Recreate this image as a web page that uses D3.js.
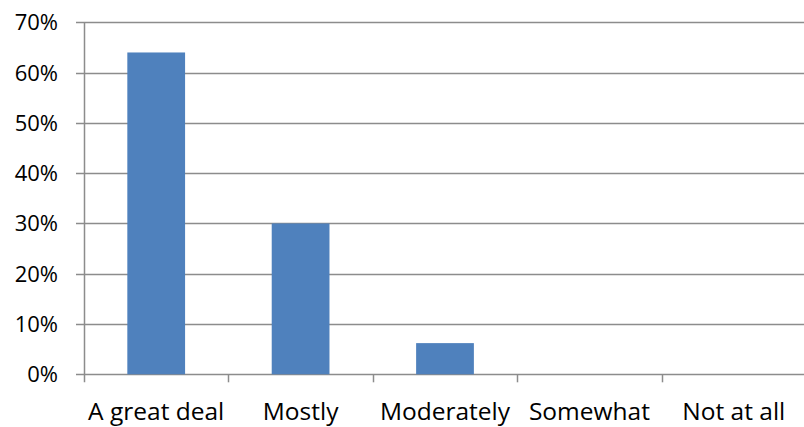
<!DOCTYPE html>
<html>
<head>
<meta charset="utf-8">
<script src="https://cdn.jsdelivr.net/npm/d3@7"></script>
<style>
  html, body { margin: 0; padding: 0; background: #fff; }
  svg { display: block; }
  text { font-family: "Open Sans", "Noto Sans", sans-serif; fill: #000; }
</style>
</head>
<body>
<svg id="chart" width="804" height="427"></svg>
<script>
// Share of responses per answer category
const categories = ["A great deal", "Mostly", "Moderately", "Somewhat", "Not at all"];
const shares = [0.64, 0.30, 0.062, 0, 0];
const yTicks = [0, 0.1, 0.2, 0.3, 0.4, 0.5, 0.6, 0.7];

const svg = d3.select("#chart");
const plotLeft = 84, plotRight = 806, plotTop = 22.3, plotBottom = 374.3;

const x = d3.scaleBand()
  .domain(categories)
  .range([plotLeft, plotRight])
  .paddingInner(0.6)
  .paddingOuter(0.3);

const y = d3.scaleLinear().domain([0, 0.7]).range([plotBottom, plotTop]);

// Horizontal gridlines with their outer ticks
svg.append("g")
  .selectAll("line")
  .data(yTicks)
  .join("line")
  .attr("x1", plotLeft - 8)
  .attr("x2", plotRight)
  .attr("y1", d => Math.round(y(d)) + 0.5)
  .attr("y2", d => Math.round(y(d)) + 0.5)
  .attr("stroke", "#8c8c8c")
  .attr("stroke-width", 1.5);

// Y tick labels
svg.append("g")
  .selectAll("text")
  .data(yTicks)
  .join("text")
  .attr("x", 58)
  .attr("y", d => y(d) + 8)
  .attr("text-anchor", "end")
  .style("font-size", "22px")
  .text(d3.format(".0%"));

// Bars
svg.append("g")
  .selectAll("rect")
  .data(categories.map((c, i) => ({ c, v: shares[i] })))
  .join("rect")
  .attr("x", d => x(d.c))
  .attr("width", x.bandwidth())
  .attr("y", d => y(d.v))
  .attr("height", d => y(0) - y(d.v))
  .attr("fill", "#4f81bd");

// Vertical axis line
svg.append("line")
  .attr("x1", plotLeft + 0.5).attr("x2", plotLeft + 0.5)
  .attr("y1", plotTop).attr("y2", plotBottom + 8)
  .attr("stroke", "#8c8c8c")
  .attr("stroke-width", 1.5);

// Category boundary ticks below the baseline
const step = x.step();
svg.append("g")
  .selectAll("line")
  .data(d3.range(1, categories.length))
  .join("line")
  .attr("x1", i => Math.round(plotLeft + i * step) + 0.5)
  .attr("x2", i => Math.round(plotLeft + i * step) + 0.5)
  .attr("y1", plotBottom)
  .attr("y2", plotBottom + 8)
  .attr("stroke", "#8c8c8c")
  .attr("stroke-width", 1.5);

// Category labels
svg.append("g")
  .selectAll("text")
  .data(categories)
  .join("text")
  .attr("x", d => x(d) + x.bandwidth() / 2)
  .attr("y", 420)
  .attr("text-anchor", "middle")
  .style("font-size", "24.5px")
  .text(d => d);
</script>
</body>
</html>
